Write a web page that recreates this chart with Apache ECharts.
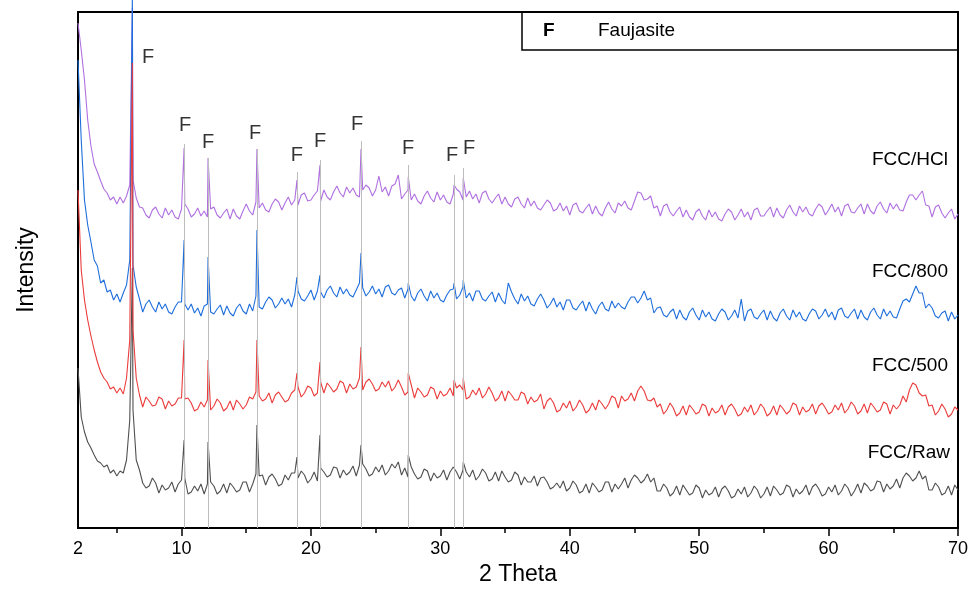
<!DOCTYPE html>
<html><head><meta charset="utf-8">
<script src="https://cdn.jsdelivr.net/npm/echarts@6/dist/echarts.min.js"></script>
<style>html,body{margin:0;padding:0;background:#fff}#c{width:973px;height:604px}</style>
</head><body><div id="c"></div>
<script>
// grid sampling: 2.00, 2.25, ... 70.00 (one group of four per degree)
const gridStart = 2, gridStep = 0.25;
const seriesNames = ['FCC/HCl', 'FCC/800', 'FCC/500', 'FCC/Raw'];
const hclVals = [
505,478,448,408, 382,364,356,347, 339,335,328,331, 324,331,325,332, 343,348,330,321,
320,313,310,318, 321,314,310,320, 313,318,311,309, 319,324,319,311, 314,320,312,317,
311,319,321,313, 310,315,319,309, 319,312,309,317, 324,317,313,326, 320,325,318,316,
324,329,326,318, 325,331,323,328, 323,333,335,327, 328,333,337,327, 338,331,328,336,
342,335,331,341, 335,340,333,331, 338,343,340,332, 338,352,336,341, 332,342,344,353,
329,334,338,328, 334,327,324,332, 337,330,326,336, 328,333,326,324, 334,339,336,328,
331,337,329,334, 325,335,337,329, 325,330,334,324, 331,324,321,329, 331,324,320,330,
322,327,320,318, 323,328,325,317, 319,325,317,322, 313,323,325,317, 315,320,324,314,
322,315,312,320, 326,319,315,325, 322,327,320,318, 327,336,335,328, 329,332,320,322,
312,322,324,316, 312,317,321,311, 318,311,308,316, 319,312,308,318, 311,316,309,307,
314,319,316,308, 313,319,311,316, 308,318,320,312, 312,317,321,311, 320,313,310,318,
323,316,312,322, 316,321,314,312, 319,324,321,313, 318,324,316,321, 312,322,324,316,
315,320,324,314, 324,317,314,322, 326,319,315,325, 319,324,318,317, 326,333,333,328,
333,337,323,322, 311,321,323,315, 310,315,319,309, 314];
const v800Vals = [
468,388,328,303, 286,268,262,245, 248,236,238,228, 234,226,235,243, 268,263,241,229,
216,224,228,221, 216,226,219,224, 216,214,221,226, 226,224,218,224, 215,220,212,222,
224,216,214,219, 223,213,222,215, 212,220,224,217, 214,224,217,232, 221,219,226,231,
228,220,224,230, 224,229,221,233, 237,229,227,232, 238,228,237,236, 230,238,242,235,
231,241,234,239, 233,231,238,245, 240,232,236,242, 234,239,231,241, 243,235,233,238,
240,230,239,232, 227,235,239,232, 227,237,230,235, 228,226,233,238, 239,229,233,241,
230,235,227,237, 237,229,227,232, 236,226,235,228, 224,245,236,229, 224,234,227,232,
224,222,229,234, 228,220,224,230, 221,226,218,228, 228,220,218,223, 227,217,226,219,
214,222,226,219, 217,227,220,225, 221,219,226,231, 231,225,230,237, 228,230,215,220,
221,213,211,216, 219,209,218,211, 208,216,220,213, 208,218,211,216, 209,207,214,219,
216,208,212,218, 210,229,207,217, 219,211,209,214, 218,208,217,210, 207,215,219,212,
208,218,211,216, 209,207,214,219, 217,209,213,219, 211,216,208,218, 220,212,210,215,
219,209,218,211, 208,216,220,213, 209,219,212,217, 211,210,219,227, 229,226,234,242,
235,235,220,224, 220,212,210,215, 217,207,216,209, 213];
const v500Vals = [
338,258,228,208, 192,178,166,156, 150,146,139,141, 135,140,134,150, 188,198,150,133,
121,131,127,122, 123,131,129,119, 127,122,124,130, 130,129,130,125, 117,119,126,121,
128,118,122,129, 125,117,120,127, 118,128,124,119, 123,131,129,136, 132,127,129,135,
125,133,136,131, 126,128,135,138, 141,131,135,142, 140,132,135,146, 135,145,141,136,
139,147,145,135, 144,139,141,150, 138,146,149,144, 137,139,146,141, 147,137,141,148,
141,133,136,143, 130,140,136,131, 133,141,139,129, 137,132,134,140, 132,140,143,138,
129,131,138,133, 140,130,134,141, 135,127,130,137, 127,137,133,128, 128,136,134,124,
131,126,128,134, 119,127,130,125, 116,118,125,120, 127,117,121,128, 123,115,118,125,
118,128,124,119, 124,132,130,120, 132,127,129,135, 127,137,142,137, 128,127,130,121,
124,114,118,125, 120,112,115,122, 113,123,119,114, 116,124,122,112, 120,115,117,123,
113,121,124,119, 112,114,121,116, 123,113,117,124, 120,112,115,122, 113,123,119,114,
117,125,123,113, 121,116,118,124, 114,122,125,120, 114,116,123,118, 125,115,119,126,
122,114,117,124, 115,125,121,116, 118,126,124,114, 123,119,123,132, 126,138,145,143,
135,132,133,122, 123,113,117,124, 119,111,114,121, 118];
const rawVals = [
160,111,96,86, 80,73,67,65, 61,63,55,58, 52,57,55,68, 108,118,68,58,
45,40,42,50, 45,35,43,38, 40,46,36,44, 48,50,34,36, 42,37,44,34,
44,46,42,34, 37,44,35,45, 41,36,38,46, 46,36,44,54, 52,53,43,51,
54,49,42,44, 53,48,55,55, 50,57,53,45, 49,56,47,60, 56,51,53,61,
60,50,58,53, 56,62,52,63, 64,59,52,54, 61,56,63,53, 57,64,60,66,
53,60,51,61, 54,49,51,59, 57,47,55,50, 52,58,48,56, 61,56,49,58,
56,51,58,48, 52,59,55,47, 49,56,47,57, 51,46,48,56, 53,43,51,46,
46,52,42,50, 51,46,39,41, 45,40,47,37, 40,47,43,35, 37,44,35,45,
41,36,38,46, 46,36,44,39, 44,50,40,48, 53,50,45,48, 54,46,50,37,
37,44,40,32, 35,42,33,43, 38,33,35,43, 40,30,38,33, 35,41,31,39,
42,37,30,32, 39,34,41,31, 35,42,38,30, 34,41,32,42, 38,33,35,43,
41,31,39,34, 37,43,33,41, 44,39,32,34, 41,36,43,33, 37,44,40,32,
37,44,35,45, 42,37,39,47, 46,36,44,39, 42,49,40,50, 55,52,47,50,
57,49,52,38, 38,45,41,33, 35,42,33,43, 38];
// Faujasite reflections (peak apex positions) and apex heights per pattern
const peakX    = [6.2, 10.2, 12.05, 15.83, 18.92, 20.7, 23.87, 27.52, 31.06, 31.77];
const hclPeaks = [520, 380, 370, 379, 348, 363, 379, 351, 343, 350];
const v800Peaks= [530, 288, 271, 298, 251, 253, 275, 245, 245, 248];
const v500Peaks= [465, 188, 168, 188, 155, 166, 181, 155, 148, 150];
const rawPeaks = [260, 88, 86, 103, 71, 93, 83, 73, 63, 66];
// reference drop lines
const refX   = [10.2, 12.05, 15.83, 18.92, 20.7, 23.87, 27.52, 31.06, 31.77];
const refTop = [384, 370, 379, 356, 368, 387, 363, 353, 360];
// "F" marker labels
const fLabelX = [7.41, 10.27, 12.05, 15.68, 18.92, 20.7, 23.56, 27.5, 30.9, 32.22];
const fLabelY = [471, 403, 386, 395, 373, 387, 404, 380, 373, 380];
// axis ticks
const xLabelVals = [2, 10, 20, 30, 40, 50, 60, 70];
const xMajorTicks = [10, 20, 30, 40, 50, 60, 70];
const xMinorTicks = [5, 15, 25, 35, 45, 55, 65];

function build(vals, peaks) {
  const pts = vals.map((v, i) => [gridStart + gridStep * i, v]);
  peakX.forEach((x, i) => pts.push([x, peaks[i]]));
  pts.sort((a, b) => a[0] - b[0]);
  return pts;
}

const FONT = 'Liberation Sans, Arial, sans-serif';
const chart = echarts.init(document.getElementById('c'), null, {renderer: 'canvas'});
const colors = ['#B070E0', '#1E6EDC', '#EB3C3C', '#505050'];
const datas = [build(hclVals, hclPeaks), build(v800Vals, v800Peaks), build(v500Vals, v500Peaks), build(rawVals, rawPeaks)];
const order = [3, 0, 1, 2];
const lineSeries = order.map(k => ({
  name: seriesNames[k], type: 'line', data: datas[k], showSymbol: false, symbol: 'none',
  clip: false, lineStyle: {color: colors[k], width: 1.1}, itemStyle: {color: colors[k]},
  animation: false, z: 3
}));

chart.setOption({
  animation: false,
  grid: {left: 78, right: 15, top: 12, bottom: 76, show: true, borderColor: '#000', borderWidth: 2, backgroundColor: 'transparent'},
  xAxis: [{
    type: 'value', min: 2, max: 70,
    name: '2 Theta', nameLocation: 'middle', nameGap: 30,
    nameTextStyle: {fontSize: 23, color: '#000', fontFamily: FONT},
    axisLine: {lineStyle: {color: '#000', width: 2}},
    axisTick: {show: true, customValues: xMajorTicks, length: 8, lineStyle: {color: '#000', width: 1.5}},
    axisLabel: {customValues: xLabelVals, fontSize: 18, color: '#000', margin: 12, fontFamily: FONT},
    splitLine: {show: false}
  }, {
    type: 'value', min: 2, max: 70, position: 'bottom',
    axisLine: {show: false},
    axisTick: {show: true, customValues: xMinorTicks, length: 5, lineStyle: {color: '#000', width: 1.5}},
    axisLabel: {show: false}, splitLine: {show: false}
  }],
  yAxis: {
    type: 'value', min: 0, max: 516,
    name: 'Intensity', nameLocation: 'middle', nameGap: 40,
    nameTextStyle: {fontSize: 23, color: '#000', fontFamily: FONT},
    axisLine: {show: true, lineStyle: {color: '#000', width: 2}},
    axisTick: {show: false}, axisLabel: {show: false}, splitLine: {show: false}
  },
  series: [{
    type: 'line', data: [], silent: true, z: 1,
    markLine: {
      silent: true, symbol: 'none', animation: false,
      lineStyle: {color: '#BDBDBD', width: 1, type: 'solid'}, label: {show: false},
      data: refX.map((x, i) => [{coord: [x, 0]}, {coord: [x, refTop[i]]}])
    }
  }].concat(lineSeries).concat([{
    type: 'scatter', symbolSize: 0, silent: true, z: 5,
    data: fLabelX.map((x, i) => [x, fLabelY[i]]),
    label: {show: true, position: 'inside', formatter: 'F', fontSize: 20, color: '#000', fontFamily: FONT}
  }]),
  graphic: [
    {type: 'rect', shape: {x: 522, y: 12, width: 436, height: 38}, style: {fill: 'none', stroke: '#000', lineWidth: 1.5}, z: 10},
    {type: 'text', x: 543, y: 31, style: {text: 'F', font: 'bold 19px ' + FONT, fill: '#000', verticalAlign: 'middle'}, z: 10},
    {type: 'text', x: 598, y: 31, style: {text: 'Faujasite', font: '19px ' + FONT, fill: '#000', verticalAlign: 'middle'}, z: 10},
    {type: 'text', x: 948, y: 160, style: {text: seriesNames[0], font: '19px ' + FONT, fill: '#000', align: 'right', verticalAlign: 'middle'}, z: 10},
    {type: 'text', x: 948, y: 272, style: {text: seriesNames[1], font: '19px ' + FONT, fill: '#000', align: 'right', verticalAlign: 'middle'}, z: 10},
    {type: 'text', x: 948, y: 366, style: {text: seriesNames[2], font: '19px ' + FONT, fill: '#000', align: 'right', verticalAlign: 'middle'}, z: 10},
    {type: 'text', x: 950, y: 453, style: {text: seriesNames[3], font: '19px ' + FONT, fill: '#000', align: 'right', verticalAlign: 'middle'}, z: 10}
  ]
});
</script></body></html>
